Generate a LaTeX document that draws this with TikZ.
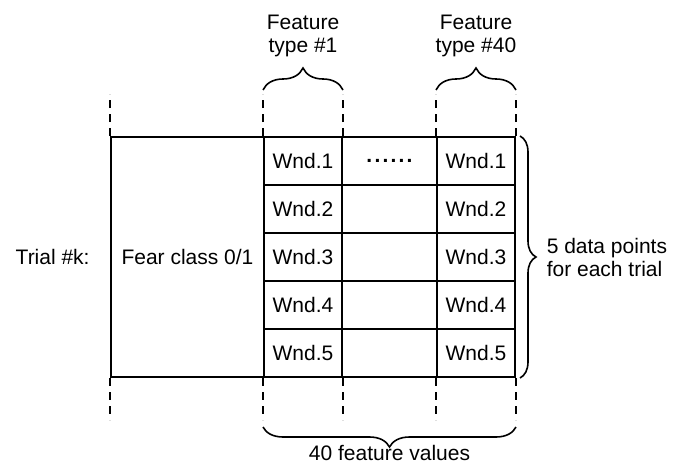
\documentclass[tikz,border=0pt]{standalone}
\usepackage{fontspec}
\setmainfont{Liberation Sans}
\usetikzlibrary{positioning,calc,decorations.pathreplacing}
\definecolor{ink}{HTML}{000000}
\newcommand\dotgap{\hspace{1.1pt}}
\tikzset{
  font=\fontsize{10.5}{11.5}\selectfont,
  cell/.style={draw=ink, line width=1pt, minimum width=39pt, minimum height=24pt,
    inner sep=0pt, anchor=north west, text=ink},
  gapcell/.style={cell, minimum width=47.5pt},
  classcell/.style={cell, minimum width=76.5pt, minimum height=120pt},
  txt/.style={text=ink, align=center, inner sep=0pt},
  guide/.style={draw=ink, line width=1pt, dash pattern=on 4pt off 3pt},
  curly/.style={draw=ink, line width=0.8pt, decorate, decoration={brace, amplitude=#1}}
}
\begin{document}
\begin{tikzpicture}[x=0.5pt,y=-0.5pt]
\useasboundingbox (0,0) rectangle (676,466);
% one trial: class column and the window rows
\node[classcell] (cls) at (110,136) {Fear class 0/1};
\node[txt, left=10pt of cls] (trial) {Trial \#k:};
\foreach \r in {1,...,5} {
  \node[cell] (a\r) at (263,{136+48*(\r-1)}) {Wnd.\r};
  \node[gapcell] (m\r) at (341,{136+48*(\r-1)}) {};
  \node[cell] (b\r) at (436,{136+48*(\r-1)}) {Wnd.\r};
}
\node[txt, font=\fontsize{10.5}{11.5}\selectfont\bfseries] (dots) at (m1) {.\dotgap.\dotgap.\dotgap.\dotgap.\dotgap.};

% dashed column guides
\foreach \n/\a in {cls/west,a1/west,a1/east,b1/west,b1/east}
  \draw[guide] (\n.north \a) -- ++(0,-42);
\foreach \n/\a in {cls/west,a5/west,a5/east,b5/west,b5/east}
  \draw[guide] (\n.south \a) -- ++(0,42);

% braces
\draw[curly=11pt] ($(a1.north west)+(0,-46)$) -- node[txt, above=16pt] {Feature\\type \#1} ($(a1.north east)+(0,-46)$);
\draw[curly=11pt] ($(b1.north west)+(0,-46)$) -- node[txt, above=16pt] {Feature\\type \#40} ($(b1.north east)+(0,-46)$);
\draw[curly=8pt] ($(b1.north east)+(4,0)$) -- node[txt, right=13pt, align=left] {5 data points\\for each trial} ($(b5.south east)+(4,0)$);
\draw[curly=10pt] ($(b5.south east)+(0,49)$) -- node[txt, below=8.5pt] {40 feature values} ($(a5.south west)+(0,49)$);
\end{tikzpicture}
\end{document}
